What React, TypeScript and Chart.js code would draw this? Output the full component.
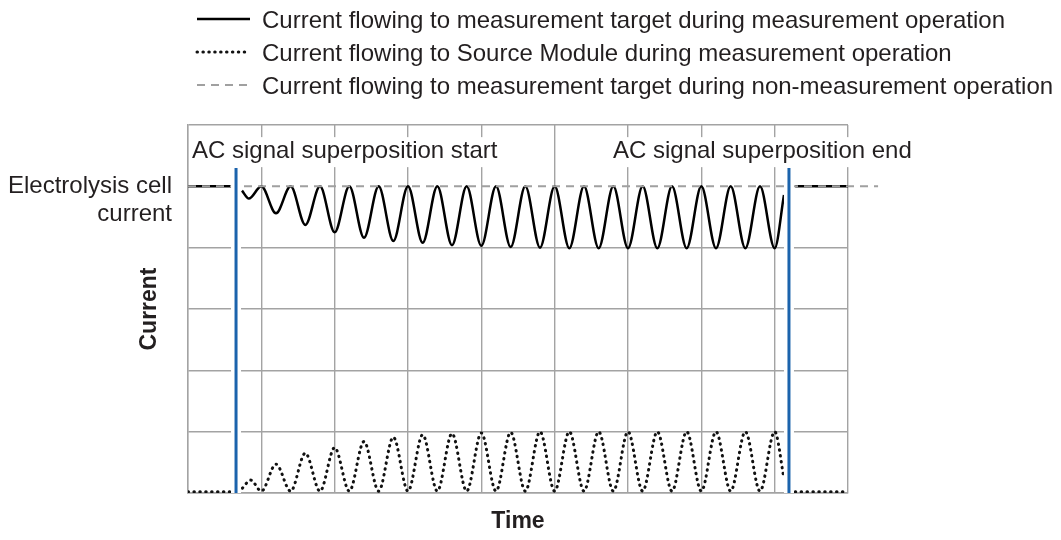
import React, { useEffect, useRef } from "react";
import { Chart, registerables } from "chart.js";

Chart.register(...registerables);

const FONT = "'Liberation Sans', Arial, Helvetica, sans-serif";
const TEXT = "#231f20";
const GRID = "#a3a3a3";
const BLUE = "#1b63ac";

// ---- data -------------------------------------------------------------
const seriesLabels = [
  "Current flowing to measurement target during measurement operation",
  "Current flowing to Source Module during measurement operation",
  "Current flowing to measurement target during non-measurement operation",
];

const cellCurrentLevel = 5;
const sourceIdleLevel = 0.02;
const idleTimesLeft = [0, 0.6];
const idleTimesRight = [8.28, 9];
const nonMeasurementTimes = [0, 9.41];
const acStartTime = 0.655;
const acEndTime = 8.195;
const markerRange = [-0.03, 5.3];

const targetTimes = [
  0.736, 0.83, 1.0, 1.2, 1.4, 1.6, 1.8, 2.0, 2.2, 2.4, 2.6, 2.8, 3.0, 3.2, 3.4,
  3.6, 3.8, 4.0, 4.2, 4.4, 4.6, 4.8, 5.0, 5.2, 5.4, 5.6, 5.8, 6.0, 6.2, 6.4,
  6.6, 6.8, 7.0, 7.2, 7.4, 7.6, 7.8, 8.0, 8.127,
];
const targetValues = [
  4.93, 4.8, 5.0, 4.56, 5.0, 4.37, 5.0, 4.25, 5.0, 4.16, 5.0, 4.11, 5.0, 4.08,
  5.0, 4.04, 5.0, 4.03, 5.0, 4.01, 5.0, 4.0, 5.0, 3.99, 5.0, 3.99, 5.0, 3.99,
  5.0, 3.99, 5.0, 3.99, 5.0, 3.99, 5.0, 3.99, 5.0, 3.99, 4.86,
];

const sourceTimes = [
  0.742, 0.855, 1.0, 1.2, 1.4, 1.6, 1.8, 2.0, 2.2, 2.4, 2.6, 2.8, 3.0, 3.2,
  3.4, 3.6, 3.8, 4.0, 4.2, 4.4, 4.6, 4.8, 5.0, 5.2, 5.4, 5.6, 5.8, 6.0, 6.2,
  6.4, 6.6, 6.8, 7.0, 7.2, 7.4, 7.6, 7.8, 8.0, 8.127,
];
const sourceValues = [
  0.08, 0.21, 0.03, 0.47, 0.03, 0.65, 0.03, 0.74, 0.03, 0.84, 0.03, 0.91, 0.03,
  0.95, 0.03, 0.97, 0.03, 0.98, 0.03, 0.99, 0.03, 1.0, 0.03, 1.0, 0.03, 1.0,
  0.03, 1.0, 0.03, 1.0, 0.03, 1.0, 0.03, 1.0, 0.03, 1.0, 0.03, 1.0, 0.24,
];

const acLabels = ["AC signal superposition start", "AC signal superposition end"];
const acLabelTimes = [0.055, 5.795];
const acLabelLevel = 5.46;

const yTickLabel = ["", "Electrolysis cell", "current"];
const xTitle = "Time";
const yTitle = "Current";

// ---- helpers ----------------------------------------------------------
const pts = (xs: number[], ys: number[]) => xs.map((x, i) => ({ x, y: ys[i] }));
const flat = (xs: number[], y: number) => xs.map((x) => ({ x, y }));
const gap = (x: number) => ({ x, y: null as any });

const markerData = [
  { x: acStartTime, y: markerRange[0] },
  { x: acStartTime, y: markerRange[1] },
  gap((acStartTime + acEndTime) / 2),
  { x: acEndTime, y: markerRange[0] },
  { x: acEndTime, y: markerRange[1] },
];

const acLabelPlugin = {
  id: "acLabels",
  afterDatasetsDraw(chart: any) {
    const { ctx, scales } = chart;
    ctx.save();
    ctx.font = `24px ${FONT}`;
    ctx.textBaseline = "alphabetic";
    ctx.textAlign = "left";
    acLabels.forEach((t, i) => {
      const x = scales.x.getPixelForValue(acLabelTimes[i]);
      const y = scales.y.getPixelForValue(acLabelLevel);
      const w = ctx.measureText(t).width;
      ctx.fillStyle = "#ffffff";
      ctx.fillRect(x - 1, y - 21, w + 3, 30);
      ctx.fillStyle = TEXT;
      ctx.fillText(t, x, y);
    });
    ctx.restore();
  },
};

const rowLegendPlugin = {
  id: "rowLegend",
  afterDraw(chart: any) {
    const ctx = chart.ctx;
    ctx.save();
    ctx.font = `24px ${FONT}`;
    ctx.textBaseline = "alphabetic";
    ctx.textAlign = "left";
    for (let row = 0; row < 3; row++) {
      const ds = chart.data.datasets[row];
      const base = 20 + row * 33;
      const mid = base - 9;
      ctx.beginPath();
      ctx.strokeStyle = ds.borderColor;
      ctx.lineWidth = ds.borderWidth;
      ctx.setLineDash(ds.borderDash || []);
      ctx.lineCap = ds.borderCapStyle || "butt";
      ctx.moveTo(189, mid);
      ctx.lineTo(242, mid);
      ctx.stroke();
      ctx.setLineDash([]);
      ctx.fillStyle = TEXT;
      ctx.fillText(ds.label, 254, base);
    }
    ctx.restore();
  },
};

export default function App() {
  const ref = useRef<HTMLCanvasElement | null>(null);

  useEffect(() => {
    if (!ref.current) return;
    const chart = new Chart(ref.current, {
      type: "line",
      data: {
        datasets: [
          {
            label: seriesLabels[0],
            data: [
              ...flat(idleTimesLeft, cellCurrentLevel),
              gap(0.66),
              ...pts(targetTimes, targetValues),
              gap(8.2),
              ...flat(idleTimesRight, cellCurrentLevel),
            ],
            borderColor: "#000000",
            borderWidth: 2.5,
            cubicInterpolationMode: "monotone",
            borderJoinStyle: "round",
            pointRadius: 0,
            order: 3,
          },
          {
            label: seriesLabels[1],
            data: [
              ...flat(idleTimesLeft, sourceIdleLevel),
              gap(0.66),
              ...pts(sourceTimes, sourceValues),
              gap(8.2),
              ...flat(idleTimesRight, sourceIdleLevel),
            ],
            borderColor: "#111111",
            borderWidth: 3,
            borderDash: [0.5, 5.4],
            borderCapStyle: "round",
            cubicInterpolationMode: "monotone",
            pointRadius: 0,
            order: 4,
          },
          {
            label: seriesLabels[2],
            data: flat(nonMeasurementTimes, cellCurrentLevel),
            borderColor: "#a0a0a0",
            borderWidth: 2,
            borderDash: [8, 6],
            pointRadius: 0,
            clip: false as any,
            order: 2,
          },
          {
            label: "mask",
            data: markerData,
            borderColor: "#ffffff",
            borderWidth: 10,
            pointRadius: 0,
            order: 1,
          },
          {
            label: "AC markers",
            data: markerData,
            borderColor: BLUE,
            borderWidth: 3,
            pointRadius: 0,
            order: 0,
          },
        ],
      },
      options: {
        responsive: true,
        maintainAspectRatio: false,
        animation: false,
        layout: { padding: { top: 117, right: 205, bottom: 0, left: 0 } },
        plugins: {
          legend: { display: false },
          tooltip: { enabled: false },
        },
        elements: { point: { radius: 0 } },
        scales: {
          x: {
            type: "linear",
            min: 0,
            max: 9,
            ticks: { stepSize: 1, display: false, autoSkip: false },
            grid: { color: GRID, lineWidth: 1.4, drawTicks: false },
            border: { display: true, color: GRID, width: 1.4 },
            title: {
              display: true,
              text: xTitle,
              color: TEXT,
              font: { family: FONT, size: 23, weight: "bold" },
              padding: { top: 0, bottom: -3 },
            },
            afterFit: (s: any) => {
              s.height = 39;
            },
          },
          y: {
            type: "linear",
            min: 0,
            max: 6,
            ticks: {
              stepSize: 1,
              autoSkip: false,
              padding: 16,
              color: TEXT,
              font: { family: FONT, size: 24, lineHeight: 28 / 24 },
              callback: (v: any) => (v === cellCurrentLevel ? yTickLabel : ""),
            },
            grid: {
              color: (c: any) =>
                c.tick && c.tick.value === cellCurrentLevel ? "rgba(0,0,0,0)" : GRID,
              lineWidth: 1.4,
              drawTicks: false,
            },
            border: { display: true, color: GRID, width: 1.4 },
            title: {
              display: true,
              text: yTitle,
              color: TEXT,
              font: { family: FONT, size: 23, weight: "bold" },
              padding: { top: 128, bottom: 0 },
            },
            afterFit: (s: any) => {
              s.width = 180;
            },
          },
        },
      } as any,
      plugins: [acLabelPlugin, rowLegendPlugin],
    });
    return () => chart.destroy();
  }, []);

  return (
    <div style={{ position: "relative", width: "1045px", height: "524px" }}>
      <canvas ref={ref} />
    </div>
  );
}
